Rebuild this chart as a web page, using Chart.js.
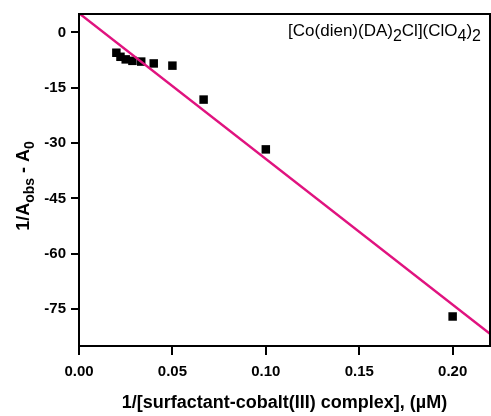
<!DOCTYPE html>
<html>
<head>
<meta charset="utf-8">
<script src="https://cdn.jsdelivr.net/npm/chart.js@4"></script>
<style>
  body { margin: 0; background: #fff; }
  #wrap { width: 491px; height: 416px; }
</style>
</head>
<body>
<div id="wrap"><canvas id="chart" width="491" height="416"></canvas></div>
<script>
// measured points
const xValues = [0.02, 0.0222, 0.025, 0.0286, 0.0333, 0.04, 0.05, 0.0667, 0.1, 0.2];
const yValues = [-5.5, -6.6, -7.3, -7.7, -7.9, -8.4, -9.0, -18.2, -31.7, -77.0];
// linear fit
const fitSlope = -395;
const fitIntercept = 5.2;
const fitRange = [0, 0.22];
const xTicks = [0, 0.05, 0.10, 0.15, 0.20];
const yTicks = [0, -15, -30, -45, -60, -75];

const FONT = '"Liberation Sans", Arial, sans-serif';
const PINK = '#E0137F';

// draws text pieces, some of them as subscripts
function drawRich(ctx, parts, x, y, align, size, weight, subRatio, drop) {
  const subSize = Math.round(size * subRatio);
  let total = 0;
  parts.forEach(p => {
    ctx.font = weight + ' ' + (p.sub ? subSize : size) + 'px ' + FONT;
    p.w = ctx.measureText(p.t).width;
    total += p.w;
  });
  let cx = align === 'right' ? x - total : align === 'center' ? x - total / 2 : x;
  ctx.textBaseline = 'alphabetic';
  ctx.textAlign = 'left';
  parts.forEach(p => {
    ctx.font = weight + ' ' + (p.sub ? subSize : size) + 'px ' + FONT;
    ctx.fillText(p.t, cx, p.sub ? y + drop : y);
    cx += p.w;
  });
}

const frame = {
  id: 'frame',
  afterDatasetsDraw(chart) {
    const { ctx, chartArea: a } = chart;
    ctx.save();
    ctx.strokeStyle = '#000';
    ctx.lineWidth = 2;
    ctx.strokeRect(a.left, a.top, a.right - a.left, a.bottom - a.top);
    ctx.fillStyle = '#000';
    // compound label inside the plot
    drawRich(ctx, [
      { t: '[Co(dien)(DA)' }, { t: '2', sub: true }, { t: 'Cl](ClO' },
      { t: '4', sub: true }, { t: ')' }, { t: '2', sub: true }
    ], 481, 36, 'right', 17, 'normal', 0.95, 5);
    // x title
    ctx.font = 'bold 18px ' + FONT;
    ctx.textAlign = 'center';
    ctx.textBaseline = 'middle';
    ctx.fillText('1/[surfactant-cobalt(III) complex], (\u00b5M)', (a.left + a.right) / 2, 403);
    // y title
    ctx.translate(23, 186);
    ctx.rotate(-Math.PI / 2);
    drawRich(ctx, [
      { t: '1/A' }, { t: 'obs', sub: true }, { t: ' - A' }, { t: '0', sub: true }
    ], 0, 6, 'center', 18, 'bold', 0.75, 5);
    ctx.restore();
  }
};

new Chart(document.getElementById('chart'), {
  type: 'scatter',
  data: {
    datasets: [
      {
        type: 'line',
        data: fitRange.map(x => ({ x: x, y: fitIntercept + fitSlope * x })),
        borderColor: PINK,
        borderWidth: 2.5,
        pointRadius: 0,
        fill: false,
        order: 0
      },
      {
        data: xValues.map((x, i) => ({ x: x, y: yValues[i] })),
        pointStyle: 'rect',
        pointRadius: 6,
        backgroundColor: '#000',
        borderColor: '#000',
        borderWidth: 0,
        order: 1
      }
    ]
  },
  options: {
    responsive: false,
    animation: false,
    layout: { autoPadding: false, padding: { top: 14, right: 1, left: 0, bottom: 0 } },
    plugins: { legend: { display: false }, tooltip: { enabled: false } },
    scales: {
      x: {
        type: 'linear',
        min: 0,
        max: 0.22,
        afterBuildTicks: s => { s.ticks = xTicks.map(v => ({ value: v })); },
        afterFit: s => { s.height = 70; s.paddingLeft = 0; s.paddingRight = 0; },
        grid: { drawOnChartArea: false, drawTicks: true, tickLength: 9, color: '#000', lineWidth: 2 },
        border: { display: true, color: '#000', width: 2 },
        ticks: {
          color: '#000',
          padding: 8,
          maxRotation: 0,
          font: { family: FONT, size: 15, weight: 'bold' },
          callback: v => v.toFixed(2)
        }
      },
      y: {
        min: -85,
        max: 5,
        afterBuildTicks: s => { s.ticks = yTicks.map(v => ({ value: v })); },
        afterFit: s => { s.width = 79; s.paddingTop = 0; s.paddingBottom = 0; },
        grid: { drawOnChartArea: false, drawTicks: true, tickLength: 8, color: '#000', lineWidth: 2 },
        border: { display: true, color: '#000', width: 2 },
        ticks: {
          color: '#000',
          padding: 5,
          font: { family: FONT, size: 15, weight: 'bold' },
          callback: v => String(v)
        }
      }
    }
  },
  plugins: [frame]
});
</script>
</body>
</html>
